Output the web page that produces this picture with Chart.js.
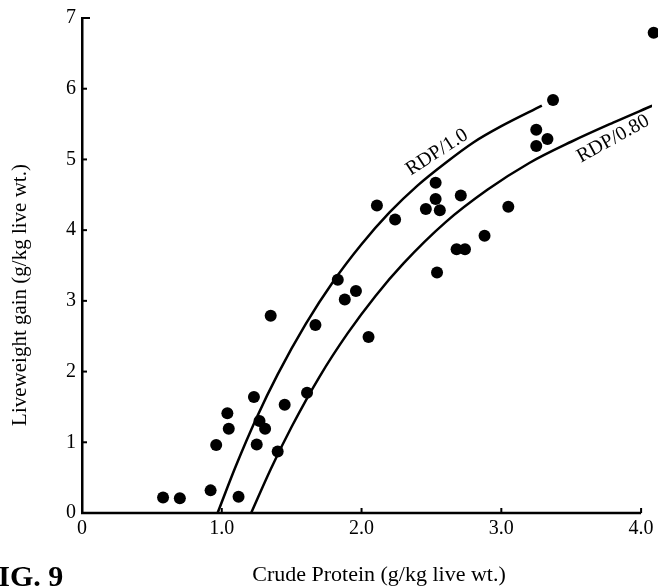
<!DOCTYPE html>
<html>
<head>
<meta charset="utf-8">
<script src="https://cdn.jsdelivr.net/npm/chart.js@4.4.0/dist/chart.umd.min.js"></script>
<style>
html, body { margin: 0; padding: 0; background: #fff; overflow: hidden; }
#wrap { width: 658px; height: 587px; position: relative; }
</style>
</head>
<body>
<div id="wrap"><canvas id="lwgChart"></canvas></div>
<script>
// ================= DATA =================
// observed animals: crude protein intake vs liveweight gain
const obsCP  = [0.58, 0.70, 0.92, 1.12, 0.96, 1.05, 1.04, 1.23, 1.27, 1.31, 1.25, 1.40, 1.45, 1.61,
                1.35, 1.67, 1.83, 1.88, 1.96, 2.05, 2.11, 2.24, 2.53, 2.53, 2.46, 2.56, 2.71, 3.05,
                2.88, 2.68, 2.74, 2.54, 3.37, 3.25, 3.33, 3.25, 4.09];
const obsLWG = [0.22, 0.21, 0.32, 0.23, 0.96, 1.19, 1.41, 1.64, 1.30, 1.19, 0.97, 0.87, 1.53, 1.70,
                2.79, 2.66, 3.30, 3.02, 3.14, 2.49, 4.35, 4.15, 4.67, 4.44, 4.30, 4.28, 4.49, 4.33,
                3.92, 3.73, 3.73, 3.40, 5.84, 5.42, 5.29, 5.19, 6.79];

// RDP/1.0 response curve
const rdp10CP  = [0.97, 1.10, 1.25, 1.40, 1.60, 1.80, 2.00, 2.20, 2.40, 2.60, 2.80, 3.00, 3.29];
const rdp10LWG = [0.00, 0.66, 1.35, 1.96, 2.67, 3.28, 3.80, 4.25, 4.63, 4.95, 5.24, 5.47, 5.76];

// RDP/0.80 response curve
const rdp08CP  = [1.21, 1.35, 1.50, 1.70, 1.90, 2.10, 2.30, 2.60, 2.90, 3.20, 3.50, 3.80, 4.08];
const rdp08LWG = [0.00, 0.62, 1.22, 1.93, 2.54, 3.07, 3.53, 4.11, 4.57, 4.95, 5.25, 5.52, 5.76];

const xTickLabels = ["0", "1.0", "2.0", "3.0", "4.0"];
const yTickLabels = ["0", "1", "2", "3", "4", "5", "6", "7"];

const toXY = (xs, ys) => xs.map((v, i) => ({ x: v, y: ys[i] }));

const SERIF = "'Liberation Serif', 'DejaVu Serif', serif";

// ================= EXTRA DRAWING: x axis line, inner ticks, titles, curve labels =================
const figureText = {
    id: "figureText",
    afterDraw(chart) {
        const { ctx, scales: { x, y } } = chart;
        ctx.save();
        ctx.strokeStyle = "#000";

        // x axis only runs to 4.0 (last point sits past it)
        ctx.lineWidth = 2.5;
        ctx.beginPath();
        ctx.moveTo(x.getPixelForValue(0) - 1, y.bottom);
        ctx.lineTo(x.getPixelForValue(4), y.bottom);
        ctx.stroke();

        // tick marks point into the plot
        ctx.lineWidth = 2;
        x.ticks.forEach(t => {
            if (t.value === 0) return;
            const px = x.getPixelForValue(t.value);
            ctx.beginPath();
            ctx.moveTo(px, y.bottom);
            ctx.lineTo(px, y.bottom - 5);
            ctx.stroke();
        });
        y.ticks.forEach(t => {
            if (t.value === 0) return;
            const py = y.getPixelForValue(t.value);
            ctx.beginPath();
            ctx.moveTo(x.left, py);
            ctx.lineTo(x.left + (t.value === 7 ? 8 : 5), py);
            ctx.stroke();
        });

        ctx.fillStyle = "#000";

        // axis titles
        ctx.font = "22px " + SERIF;
        ctx.textAlign = "center";
        ctx.textBaseline = "alphabetic";
        ctx.fillText("Crude Protein (g/kg live wt.)", 379, 581);

        ctx.save();
        ctx.font = "21px " + SERIF;
        ctx.translate(26, 295);
        ctx.rotate(-Math.PI / 2);
        ctx.fillText("Liveweight gain (g/kg live wt.)", 0, 0);
        ctx.restore();

        // curve labels
        ctx.font = "20px " + SERIF;
        ctx.textBaseline = "middle";
        [["RDP/1.0", 2.54, 5.10, -33], ["RDP/0.80", 3.80, 5.29, -29]].forEach(([txt, cx, cy, deg]) => {
            ctx.save();
            ctx.translate(x.getPixelForValue(cx), y.getPixelForValue(cy));
            ctx.rotate(deg * Math.PI / 180);
            ctx.fillText(txt, 0, 0);
            ctx.restore();
        });

        // figure caption, cut at the page edge
        ctx.font = "bold 30px " + SERIF;
        ctx.textAlign = "left";
        ctx.textBaseline = "alphabetic";
        ctx.fillText("FIG. 9", -20, 586);

        ctx.restore();
    }
};

new Chart(document.getElementById("lwgChart"), {
    type: "scatter",
    data: {
        datasets: [
            {
                label: "RDP/1.0",
                data: toXY(rdp10CP, rdp10LWG),
                showLine: true,
                borderColor: "#000",
                borderWidth: 2.5,
                pointRadius: 0,
                cubicInterpolationMode: "monotone",
                fill: false
            },
            {
                label: "RDP/0.80",
                data: toXY(rdp08CP, rdp08LWG),
                showLine: true,
                borderColor: "#000",
                borderWidth: 2.5,
                pointRadius: 0,
                cubicInterpolationMode: "monotone",
                fill: false
            },
            {
                label: "Observed",
                data: toXY(obsCP, obsLWG),
                backgroundColor: "#000",
                borderWidth: 0,
                pointRadius: 6,
                clip: false
            }
        ]
    },
    options: {
        responsive: true,
        maintainAspectRatio: false,
        animation: false,
        layout: { padding: { left: 0, top: 14, right: 0, bottom: 0 } },
        plugins: {
            legend: { display: false },
            tooltip: { enabled: false }
        },
        scales: {
            x: {
                type: "linear",
                min: 0,
                max: 4.078,
                afterFit: s => { s.height = 74; },
                grid: { display: false, drawTicks: false },
                border: { display: false },
                ticks: {
                    stepSize: 1,
                    includeBounds: false,
                    padding: 4,
                    color: "#000",
                    font: { family: SERIF, size: 20 },
                    callback: (v, i) => xTickLabels[i]
                }
            },
            y: {
                type: "linear",
                min: 0,
                max: 7,
                afterFit: s => { s.width = 82; },
                grid: { display: false, drawTicks: false },
                border: { display: true, color: "#000", width: 2.5 },
                ticks: {
                    stepSize: 1,
                    padding: 6,
                    color: "#000",
                    font: { family: SERIF, size: 20 },
                    callback: (v, i) => yTickLabels[i]
                }
            }
        }
    },
    plugins: [figureText]
});
</script>
</body>
</html>
